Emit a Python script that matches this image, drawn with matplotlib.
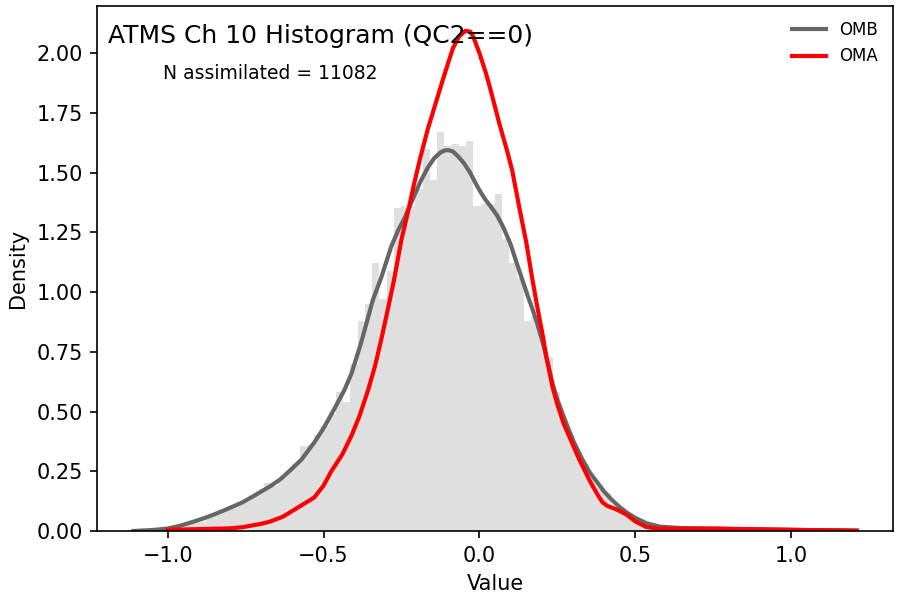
import numpy as np
import matplotlib
matplotlib.use("Agg")
import matplotlib.pyplot as plt

# histogram (density), 100 bins
hist_lo, hist_hi = -1.11, 1.21
hist_heights = [
    0.004, 0.0, 0.004, 0.004, 0.009, 0.017, 0.013, 0.026, 0.035, 0.039,
    0.061, 0.070, 0.087, 0.104, 0.113, 0.122, 0.148, 0.165, 0.20, 0.19,
    0.22, 0.25, 0.28, 0.355, 0.36, 0.40, 0.44, 0.49, 0.58, 0.54,
    0.70, 0.88, 0.95, 1.12, 0.97, 1.09, 1.35, 1.36, 1.36, 1.43,
    1.60, 1.47, 1.67, 1.61, 1.62, 1.61, 1.63, 1.36, 1.37, 1.37,
    1.41, 1.22, 1.12, 1.06, 0.88, 0.90, 0.82, 0.73, 0.58, 0.47,
    0.40, 0.33, 0.28, 0.22, 0.18, 0.16, 0.11, 0.09, 0.07, 0.05,
    0.035, 0.03, 0.02, 0.026, 0.013, 0.009, 0.009, 0.013, 0.009, 0.009,
    0.004, 0.009, 0.004, 0.009, 0.004, 0.004, 0.009, 0.004, 0.004, 0.004,
    0.0, 0.004, 0.0, 0.004, 0.0, 0.004, 0.0, 0.0, 0.0, 0.004,
]

# OMB density curve
omb_x = [-1.11, -1.05, -1.0, -0.96, -0.917, -0.88, -0.84, -0.80, -0.76, -0.73, -0.70,
         -0.67, -0.64, -0.61, -0.57, -0.53, -0.50, -0.47, -0.433, -0.41, -0.379,
         -0.36, -0.342, -0.315, -0.283, -0.26, -0.24, -0.21, -0.19, -0.166, -0.145,
         -0.124, -0.11, -0.10, -0.085, -0.07, -0.05, -0.03, -0.01, 0.003, 0.02,
         0.035, 0.057, 0.077, 0.10, 0.12, 0.138, 0.156, 0.17, 0.185, 0.205,
         0.22, 0.236, 0.25, 0.27, 0.30, 0.33, 0.354, 0.38, 0.40, 0.425,
         0.45, 0.475, 0.50, 0.535, 0.58, 0.65, 0.75, 0.85, 0.95, 1.05, 1.15, 1.21]
omb_y = [0.0, 0.004, 0.01, 0.022, 0.039, 0.055, 0.075, 0.097, 0.12, 0.142, 0.165,
         0.188, 0.215, 0.25, 0.30, 0.37, 0.43, 0.50, 0.59, 0.66, 0.79,
         0.88, 0.966, 1.06, 1.19, 1.26, 1.31, 1.40, 1.46, 1.52, 1.56,
         1.585, 1.593, 1.594, 1.588, 1.57, 1.54, 1.50, 1.45, 1.42, 1.385,
         1.36, 1.32, 1.27, 1.20, 1.12, 1.05, 0.98, 0.93, 0.87, 0.78,
         0.70, 0.61, 0.55, 0.48, 0.38, 0.30, 0.245, 0.20, 0.165, 0.13,
         0.10, 0.075, 0.055, 0.033, 0.018, 0.012, 0.010, 0.008, 0.006, 0.004, 0.002, 0.001]

# OMA density curve
oma_x = [-1.00, -0.90, -0.80, -0.76, -0.70, -0.67, -0.63, -0.58, -0.53, -0.50, -0.475, -0.44,
         -0.41, -0.385, -0.357, -0.335, -0.315, -0.295, -0.274, -0.25, -0.23, -0.21,
         -0.19, -0.166, -0.145, -0.124, -0.10, -0.085, -0.065, -0.045, -0.03, -0.02, 0.0, 0.02,
         0.035, 0.045, 0.065, 0.089, 0.105, 0.13, 0.15, 0.169, 0.184, 0.20,
         0.216, 0.235, 0.25, 0.27, 0.30, 0.32, 0.354, 0.38, 0.395, 0.41, 0.44,
         0.47, 0.50, 0.535, 0.57, 0.65, 0.75, 0.85, 0.95, 1.05, 1.15, 1.21]
oma_y = [0.005, 0.008, 0.011, 0.016, 0.03, 0.04, 0.06, 0.10, 0.14, 0.19, 0.25, 0.32,
         0.40, 0.48, 0.59, 0.69, 0.80, 0.92, 1.05, 1.22, 1.33, 1.45,
         1.56, 1.68, 1.77, 1.86, 1.96, 2.02, 2.07, 2.093, 2.09, 2.07, 2.00, 1.92,
         1.85, 1.80, 1.70, 1.59, 1.51, 1.34, 1.21, 1.06, 0.95, 0.84,
         0.72, 0.60, 0.53, 0.45, 0.36, 0.30, 0.21, 0.15, 0.12, 0.105, 0.09,
         0.07, 0.04, 0.017, 0.010, 0.010, 0.010, 0.008, 0.006, 0.004, 0.003, 0.002]

n_assim = 11082

fig, ax = plt.subplots(figsize=(6, 4), dpi=150)
fig.subplots_adjust(left=0.108, right=0.992, top=0.99, bottom=0.115)

edges = np.linspace(hist_lo, hist_hi, len(hist_heights) + 1)
ax.bar(edges[:-1], hist_heights, width=np.diff(edges), align='edge',
       color='#dfdfdf', linewidth=0)

ax.plot(omb_x, omb_y, color='#666666', lw=2, label='OMB', solid_joinstyle='round')
ax.plot(oma_x, oma_y, color='red', lw=2, label='OMA', solid_joinstyle='round')

ax.set_ylim(0, 2.197)
ax.set_xlabel('Value')
ax.set_ylabel('Density')

ax.text(0.014, 0.966, 'ATMS Ch 10 Histogram (QC2==0)', transform=ax.transAxes,
        fontsize=12, va='top', ha='left')
ax.text(0.083, 0.89, f'N assimilated = {n_assim}', transform=ax.transAxes,
        fontsize=9, va='top', ha='left')

ax.legend(loc='upper right', frameon=False, fontsize=8)

plt.savefig('out.png')
